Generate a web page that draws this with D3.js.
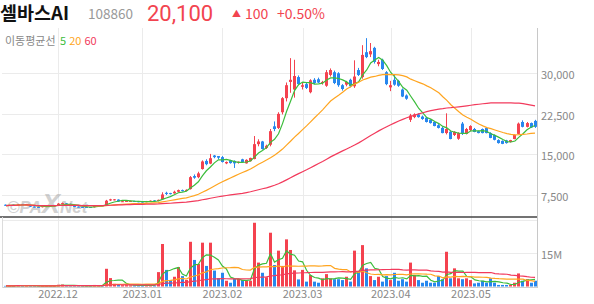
<!DOCTYPE html>
<html><head><meta charset="utf-8">
<script src="https://cdn.jsdelivr.net/npm/d3@7"></script>
<style>
body{margin:0;background:#fff;}
svg{display:block;font-family:"Noto Sans CJK KR","Noto Sans",sans-serif;}
</style></head><body>
<svg id="c" width="594" height="304"></svg>
<script>
const dates = [
"2022-11-14","2022-11-15","2022-11-16","2022-11-17","2022-11-18","2022-11-21","2022-11-22","2022-11-23","2022-11-24","2022-11-25","2022-11-28","2022-11-29","2022-11-30",
"2022-12-01","2022-12-02","2022-12-05","2022-12-06","2022-12-07","2022-12-08","2022-12-09","2022-12-12","2022-12-13","2022-12-14","2022-12-15","2022-12-16","2022-12-19","2022-12-20","2022-12-21","2022-12-22","2022-12-23","2022-12-26","2022-12-27","2022-12-28","2022-12-29",
"2023-01-02","2023-01-03","2023-01-04","2023-01-05","2023-01-06","2023-01-09","2023-01-10","2023-01-11","2023-01-12","2023-01-13","2023-01-16","2023-01-17","2023-01-18","2023-01-19","2023-01-20","2023-01-25","2023-01-26","2023-01-27","2023-01-30","2023-01-31",
"2023-02-01","2023-02-02","2023-02-03","2023-02-06","2023-02-07","2023-02-08","2023-02-09","2023-02-10","2023-02-13","2023-02-14","2023-02-15","2023-02-16","2023-02-17","2023-02-20","2023-02-21","2023-02-22","2023-02-23","2023-02-24","2023-02-27","2023-02-28",
"2023-03-02","2023-03-03","2023-03-06","2023-03-07","2023-03-08","2023-03-09","2023-03-10","2023-03-13","2023-03-14","2023-03-15","2023-03-16","2023-03-17","2023-03-20","2023-03-21","2023-03-22","2023-03-23","2023-03-24","2023-03-27","2023-03-28","2023-03-29","2023-03-30","2023-03-31",
"2023-04-03","2023-04-04","2023-04-05","2023-04-06","2023-04-07","2023-04-10","2023-04-11","2023-04-12","2023-04-13","2023-04-14","2023-04-17","2023-04-18","2023-04-19","2023-04-20","2023-04-21","2023-04-24","2023-04-25","2023-04-26","2023-04-27","2023-04-28",
"2023-05-02","2023-05-03","2023-05-04","2023-05-08","2023-05-09","2023-05-10","2023-05-11","2023-05-12","2023-05-15","2023-05-16","2023-05-17","2023-05-18","2023-05-19","2023-05-22","2023-05-23","2023-05-24","2023-05-25"
];
const open = [
5700,5550,5700,5650,5800,5700,5650,5350,5300,5250,5400,5450,5450,
5600,5850,5950,5850,5550,5350,5300,5300,5300,5250,5550,5600,5550,6500,6550,6650,6250,6300,6350,6400,6350,
6300,6200,6300,6500,6400,6700,7900,7850,7800,8100,8400,8250,8600,11000,10800,12300,13800,13300,14800,14700,
14500,13350,13950,13800,13450,14100,13350,13750,14150,16900,17400,16200,16800,20200,19900,22800,25400,28400,27000,29300,
27500,28000,26500,28800,28900,28200,27700,29700,30200,30000,27800,27900,28800,27600,30600,29300,33900,33500,34700,31700,32500,30200,
27400,28800,28600,27000,25900,21400,21900,22400,22000,21800,21400,21000,20400,19900,18950,19200,18600,17900,20700,18800,
19500,19700,19300,19700,19900,18950,18600,17650,17500,17600,17300,17850,18800,21000,20100,20800,21200
];
const high = [
5750,5700,5750,5850,5850,5850,5700,5400,5350,5500,5550,5550,5600,
6000,6100,6000,5900,5600,5400,5350,5350,5300,5650,5650,5650,6600,6800,6750,6700,6400,6450,6450,6450,6400,
6350,6400,6500,6550,6650,8000,8100,7900,8300,8500,8500,8550,11000,11300,11800,13900,14100,15100,14900,14700,
14700,13700,14000,13900,13700,14200,14100,14400,18400,17800,17500,16800,19700,21100,22800,25600,28300,32800,32500,29600,
28300,28300,28900,29100,29200,28600,30600,30900,30500,30200,28000,28600,29000,32400,31000,35200,36500,35600,34900,32500,32700,30400,
28600,29700,28800,27200,26100,22500,22600,22600,22200,21900,21500,21100,20600,20100,22600,19300,19300,19100,21000,19900,
20400,19900,19400,19800,20000,19100,18700,17800,17600,17700,17700,18700,20900,21300,21000,20900,21400
];
const low = [
5500,5500,5550,5600,5650,5650,5300,5200,5200,5200,5350,5400,5400,
5550,5800,5750,5650,5250,5200,5150,5200,5150,5200,5500,5500,5500,6400,6500,6250,6200,6250,6300,6250,6150,
6100,6150,6250,6350,6350,6650,7500,7600,7750,8000,8150,8200,8500,10500,10600,12200,13000,13200,14300,14100,
13500,13200,13300,12500,13300,13500,13300,13700,14100,16500,15900,16000,16500,19300,19700,22400,24800,26400,25500,27800,
27000,27100,26300,28000,28200,27900,27500,29400,28000,27500,26800,27600,27400,27300,29500,29000,32800,33000,31800,31300,30600,27800,
26700,27700,27500,25600,25100,21000,21700,21800,21400,20900,20700,20200,19800,18900,18700,17800,18400,17700,18600,18700,
19300,19100,18900,18900,18900,18000,17600,17000,16900,17000,17200,17800,18700,20000,20000,19900,19900
];
const close = [
5550,5650,5600,5750,5700,5800,5350,5250,5250,5450,5500,5500,5550,
5900,6000,5800,5700,5300,5250,5200,5250,5200,5600,5600,5550,6450,6700,6700,6300,6350,6400,6400,6300,6200,
6150,6350,6450,6400,6600,7600,7700,7750,8100,8400,8250,8450,10800,10700,11500,13700,13200,14300,14500,14400,
13600,13600,13400,13350,13650,13600,14000,14350,16900,17400,16000,16600,19300,19700,22500,25400,27800,28800,29500,28000,
27800,27300,28700,28200,28300,28400,30200,30600,28200,27800,27100,28400,27600,29400,29700,33400,33000,34100,32100,32100,30800,28000,
27800,27900,27700,25700,25300,22200,22400,21900,21550,21000,20800,20250,19900,18950,19700,17850,19150,18950,18800,19700,
20250,19150,18950,18950,18950,18050,17700,17100,16950,17100,17650,18600,20700,20100,20800,20000,20100
];
// volume, millions of shares
const volume = [
0.3,0.3,0.25,0.6,0.3,0.3,0.4,0.3,0.2,0.3,0.25,0.2,0.25,
0.8,0.9,0.4,0.3,0.4,0.3,0.3,0.2,0.2,0.7,0.3,0.2,8.0,3.8,1.2,1.0,0.6,0.6,0.5,0.5,0.5,
0.4,0.6,0.7,0.5,6.5,19.2,7.5,2.9,4.4,8.8,4.7,3.0,20.2,12.0,10.2,19.8,9.3,19.8,7.2,3.8,
6.2,2.6,1.7,3.4,3.4,2.9,2.6,2.6,28.8,10.8,6.2,4.2,24.3,9.7,16.2,9.3,21.3,16.5,7.3,3.2,
7.5,2.2,5.2,2.2,1.7,3.7,5.6,3.7,3.3,3.3,2.9,4.4,2.2,16.2,6.7,18.7,8.2,4.7,2.9,4.4,2.2,4.7,
2.9,6.2,2.6,3.3,2.2,10.8,5.2,2.9,1.7,2.6,1.7,1.7,4.7,3.3,15.7,3.7,8.2,3.7,3.3,3.7,
2.9,1.4,1.7,2.6,1.7,3.7,1.7,0.7,0.7,0.7,0.7,1.7,5.9,2.6,3.3,1.7,2.6
];
const priceTicks = [7500, 15000, 22500, 30000];
const volumeGrid = [15, 30];
const volumeLabels = [15];
const monthStarts = ["2022-12-01","2023-01-02","2023-02-01","2023-03-02","2023-04-03","2023-05-02"];
const monthLabels = ["2022.12","2023.01","2023.02","2023.03","2023.04","2023.05"];
const maPeriods = [5, 20, 60];
const maColors = ["#3cbd3c", "#ffa520", "#f23a5c"];

const UP = "#f4424f", DOWN = "#2787ee";
const svg = d3.select("#c");
const plotL = 4, plotR = 537, topY = 28, sepY = 217, volBot = 287;

const x = d3.scaleBand().domain(d3.range(dates.length)).range([plotL, plotR]).paddingInner(0.25).paddingOuter(0.12);
const cx = i => x(i) + x.bandwidth() / 2;
const y = d3.scaleLinear().domain([7500, 30000]).range([195, 73.3]);
const yv = d3.scaleLinear().domain([0, 15]).range([286.5, 253.3]);

function sma(arr, n) {
  return arr.map((_, i) => d3.mean(arr.slice(Math.max(0, i - n + 1), i + 1)));
}

// header
const hdr = svg.append("g");
hdr.append("text").attr("x", 0).attr("y", 20).attr("font-size", 18.5).attr("font-weight", 700).attr("fill", "#111").text("셀바스AI");
hdr.append("text").attr("x", 88).attr("y", 18.5).attr("font-size", 13.5).attr("fill", "#999").text("108860");
hdr.append("text").attr("x", 147).attr("y", 20.5).attr("font-size", 22).attr("fill", "#f2444f").attr("font-family", "Roboto, Noto Sans, sans-serif").text("20,100");
hdr.append("text").attr("x", 232).attr("y", 16.5).attr("font-size", 9).attr("fill", "#f2444f").text("▲");
hdr.append("text").attr("x", 245).attr("y", 18.5).attr("font-size", 14).attr("fill", "#f2444f").text("100");
hdr.append("text").attr("x", 277).attr("y", 18.5).attr("font-size", 14).attr("fill", "#f2444f").text("+0.50%");

// grid
const grid = svg.append("g");
priceTicks.forEach(t => {
  grid.append("line").attr("x1", 2).attr("x2", plotR).attr("y1", Math.round(y(t)) + 0.5).attr("y2", Math.round(y(t)) + 0.5).attr("stroke", "#ebebeb");
});
volumeGrid.forEach(t => {
  grid.append("line").attr("x1", 2).attr("x2", plotR).attr("y1", Math.round(yv(t)) + 0.5).attr("y2", Math.round(yv(t)) + 0.5).attr("stroke", "#ebebeb");
});
monthStarts.forEach(d => {
  const i = dates.indexOf(d);
  const xx = Math.round(cx(i)) + 0.5;
  grid.append("line").attr("x1", xx).attr("x2", xx).attr("y1", topY).attr("y2", volBot).attr("stroke", "#ebebeb");
});

// watermark
const wm = svg.append("text").attr("x", 7).attr("y", 213).attr("font-size", 17).attr("font-weight", 700)
  .attr("font-style", "italic").attr("fill", "#9a9a9a").attr("opacity", 0.45).attr("font-family", "Liberation Sans, Arial, sans-serif");
wm.append("tspan").text("©PA");
wm.append("tspan").attr("font-size", 27).text("X");
wm.append("tspan").text("Net");

// legend
const lg = svg.append("text").attr("x", 5).attr("y", 45).attr("font-size", 11);
lg.append("tspan").attr("fill", "#888").text("이동평균선 ");
maPeriods.forEach((p, k) => lg.append("tspan").attr("fill", maColors[k]).attr("dx", k ? 3 : 2).text(p));

// price panel
svg.append("clipPath").attr("id", "cp").append("rect").attr("x", 0).attr("y", topY).attr("width", plotR).attr("height", sepY - topY);
const pg = svg.append("g").attr("clip-path", "url(#cp)");
const bw = 3;
dates.forEach((d, i) => {
  const up = close[i] >= open[i];
  const col = up ? UP : DOWN;
  const bx = Math.round(cx(i) - bw / 2);
  pg.append("line").attr("x1", bx + 1.5).attr("x2", bx + 1.5).attr("y1", y(high[i])).attr("y2", y(low[i])).attr("stroke", col).attr("stroke-width", 1);
  const y1 = y(Math.max(open[i], close[i])), y2 = y(Math.min(open[i], close[i]));
  pg.append("rect").attr("x", bx).attr("width", bw).attr("y", y1).attr("height", Math.max(1, y2 - y1)).attr("fill", col);
});
maPeriods.forEach((p, k) => {
  const m = sma(close, p);
  pg.append("path").attr("d", d3.line().x((v, i) => cx(i)).y(v => y(v))(m)).attr("fill", "none").attr("stroke", maColors[k]).attr("stroke-width", 1.2);
});

// volume panel
svg.append("clipPath").attr("id", "cv").append("rect").attr("x", 0).attr("y", sepY).attr("width", plotR).attr("height", volBot - sepY);
const vg = svg.append("g").attr("clip-path", "url(#cv)");
dates.forEach((d, i) => {
  const col = close[i] >= open[i] ? UP : DOWN;
  const bx = Math.round(cx(i) - bw / 2);
  vg.append("rect").attr("x", bx).attr("width", bw).attr("y", yv(volume[i])).attr("height", yv(0) - yv(volume[i])).attr("fill", col);
});
maPeriods.forEach((p, k) => {
  const m = sma(volume, p);
  vg.append("path").attr("d", d3.line().x((v, i) => cx(i)).y(v => yv(v))(m)).attr("fill", "none").attr("stroke", maColors[k]).attr("stroke-width", 1.2);
});

// frame lines
svg.append("line").attr("x1", 0).attr("x2", plotR).attr("y1", sepY).attr("y2", sepY).attr("stroke", "#444").attr("stroke-width", 1.5);
svg.append("line").attr("x1", plotR + 0.5).attr("x2", plotR + 0.5).attr("y1", topY).attr("y2", volBot + 1).attr("stroke", "#c8c8c8");
svg.append("line").attr("x1", 2).attr("x2", plotR).attr("y1", volBot + 0.5).attr("y2", volBot + 0.5).attr("stroke", "#cfcfcf");
svg.append("line").attr("x1", 2.5).attr("x2", 2.5).attr("y1", sepY).attr("y2", volBot + 1).attr("stroke", "#dcdcdc");

// axes
const ya = svg.append("g").attr("transform", `translate(${plotR},0)`)
  .call(d3.axisRight(y).tickValues(priceTicks).tickFormat(d3.format(",")).tickSize(0).tickPadding(4));
ya.select(".domain").remove();
ya.selectAll("text").attr("font-size", 11).attr("fill", "#888").attr("dy", "0.5em").attr("font-family", "Noto Sans CJK KR, Noto Sans, sans-serif");

const va = svg.append("g").attr("transform", `translate(${plotR},0)`)
  .call(d3.axisRight(yv).tickValues(volumeLabels).tickFormat(d => d + "M").tickSize(0).tickPadding(4));
va.select(".domain").remove();
va.selectAll("text").attr("font-size", 11).attr("fill", "#888").attr("dy", "0.45em").attr("font-family", "Noto Sans CJK KR, Noto Sans, sans-serif");

const xa = svg.append("g").attr("transform", `translate(0,${volBot})`)
  .call(d3.axisBottom(x).tickValues(monthStarts.map(d => dates.indexOf(d))).tickFormat(i => monthLabels[monthStarts.indexOf(dates[i])]).tickSize(0).tickPadding(3));
xa.select(".domain").remove();
xa.selectAll("text").attr("font-size", 11).attr("fill", "#888").attr("font-family", "Noto Sans CJK KR, Noto Sans, sans-serif");
</script>
</body></html>
